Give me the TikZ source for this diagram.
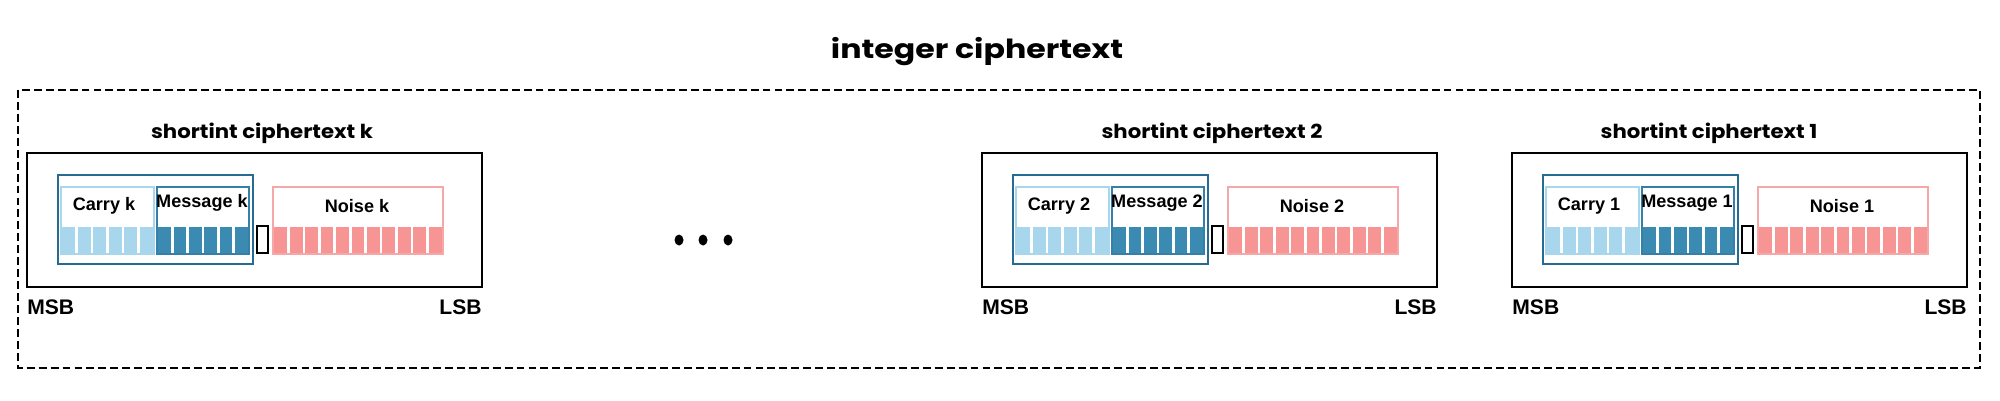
\documentclass[tikz,border=0pt]{standalone}
\usepackage{fontspec}
\setmainfont{Liberation Sans}
\newfontfamily\poppins{Poppins}
\definecolor{carryblue}{RGB}{168,214,236}
\definecolor{msgblue}{RGB}{58,138,178}
\definecolor{msgedge}{RGB}{52,128,168}
\definecolor{frameblue}{RGB}{38,108,146}
\definecolor{noisered}{RGB}{247,149,149}
\definecolor{noiseedge}{RGB}{246,168,168}
\tikzset{
  bigbox/.style     = {draw=black, line width=1.2pt, dash pattern=on 4.5pt off 2.3pt},
  shortbox/.style   = {draw=black, line width=1.2pt},
  framebox/.style   = {draw=frameblue, line width=1.2pt},
  carrybox/.style   = {draw=carryblue, line width=1pt},
  msgbox/.style     = {draw=msgedge, line width=1.1pt},
  noisebox/.style   = {draw=noiseedge, line width=1pt},
  padbox/.style     = {draw=black, line width=1.2pt},
  cell/.style       = {draw=white, line width=1.5pt},
  heading/.style    = {font=\poppins\fontsize{15pt}{18pt}\selectfont\bfseries},
  subheading/.style = {font=\poppins\fontsize{11pt}{13pt}\selectfont\bfseries},
  field/.style      = {font=\fontsize{10.3pt}{12pt}\selectfont\bfseries, inner sep=0pt},
  bitlabel/.style   = {font=\fontsize{12pt}{14pt}\selectfont\bfseries, inner sep=0pt}
}

\begin{document}
\begin{tikzpicture}[x=0.02cm, y=-0.02cm]
    \useasboundingbox (0,0) rectangle (2000,400);

    \node [heading] (int) at (977,52) {\scalebox{1.2}[1]{integer ciphertext}};
    \draw [bigbox] (18,90) rectangle (1980,368);

    \foreach \x/\tx/\n in {27/262/k, 982/1212/2, 1512/1709/1} {
        \node [subheading] (title\n) at (\tx,133) {\scalebox{1.1}[1]{shortint ciphertext \n}};
        \draw [shortbox] (\x,153) rectangle ++(455,134);
        % bit cells
        \foreach \i in {0,...,5} {
            \filldraw [cell, fill=carryblue] (\x+34+\i*15.5,226) rectangle ++(15.5,28);
            \filldraw [cell, fill=msgblue] (\x+130+\i*15.33,226) rectangle ++(15.33,28);
        }
        \foreach \i in {0,...,10}
            \filldraw [cell, fill=noisered] (\x+246+\i*15.45,226) rectangle ++(15.45,28);
        \draw [carrybox] (\x+34,187) rectangle (\x+127,254);
        \draw [msgbox] (\x+130,187) rectangle (\x+222,254);
        \draw [framebox] (\x+31,175) rectangle (\x+226,264);
        \draw [padbox] (\x+230,226) rectangle (\x+241,253);
        \draw [noisebox] (\x+246,187) rectangle (\x+416,254);
        \node [field] (carry\n) at (\x+77,206) {Carry \n};
        \node [field] (msg\n) at (\x+175,203) {Message \n};
        \node [field] (noise\n) at (\x+330,206) {Noise \n};
        \node [bitlabel, anchor=west] (msb\n) at (\x,307) {MSB};
        \node [bitlabel, anchor=east] (lsb\n) at (\x+455,307) {LSB};
    }

    % dots between k and 2
    \foreach \d in {679,703,728}
        \fill (\d,240) ellipse [x radius=0.09cm, y radius=0.11cm];
\end{tikzpicture}
\end{document}
